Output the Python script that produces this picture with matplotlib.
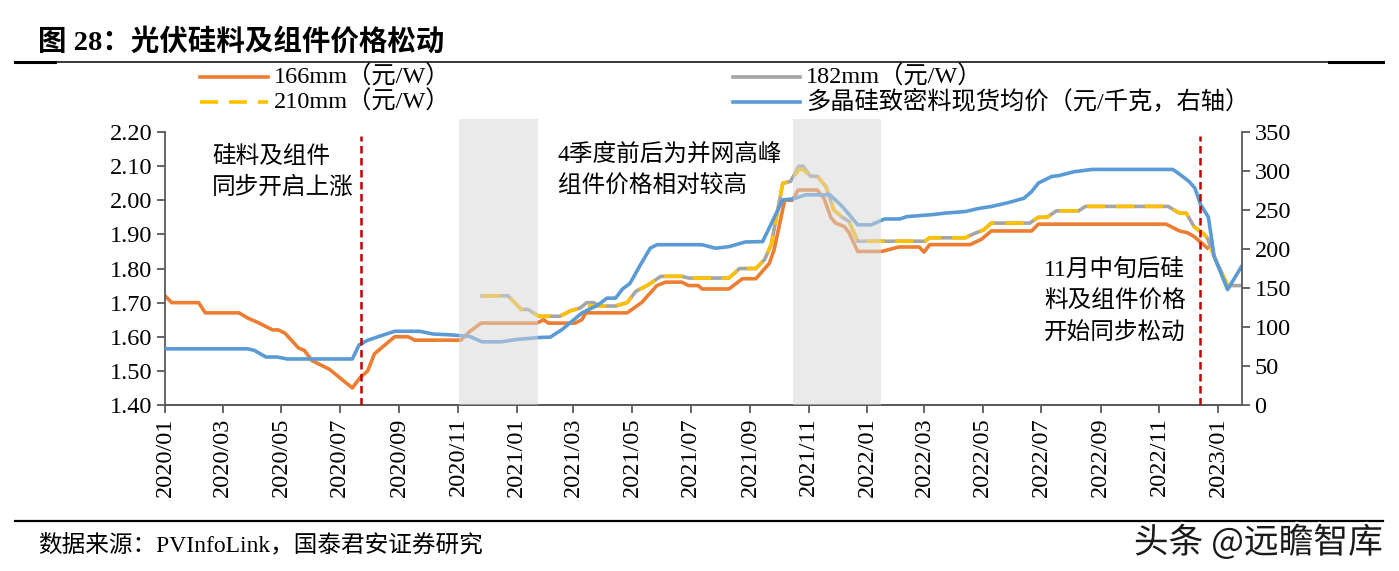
import matplotlib
matplotlib.use("Agg")
import matplotlib.pyplot as plt
import matplotlib.patheffects as pe
from matplotlib.lines import Line2D
import numpy as np
import pandas as pd

plt.rcParams["font.family"] = ["Liberation Serif", "Noto Sans CJK SC"]

W, H = 1399, 571
ORANGE = "#ED7D31"
GRAY = "#A5A5A5"
YELLOW = "#FFC000"
BLUE = "#5B9BD5"
RED = "#C00000"
SPINE = "#595959"

# ---- data -----------------------------------------------------------------
p166_dates = ["2020-01-01", "2020-01-08", "2020-02-05", "2020-02-12", "2020-03-18",
              "2020-03-27", "2020-04-08", "2020-04-22", "2020-04-28", "2020-05-05",
              "2020-05-19", "2020-05-25", "2020-06-02", "2020-06-20", "2020-07-14",
              "2020-07-22", "2020-07-30", "2020-08-06", "2020-08-27", "2020-09-10",
              "2020-09-17", "2020-11-04", "2020-11-13", "2020-11-25", "2021-01-22",
              "2021-01-29", "2021-02-03", "2021-03-03", "2021-03-10", "2021-03-14",
              "2021-04-26", "2021-05-11", "2021-05-27", "2021-06-05", "2021-06-22",
              "2021-06-29", "2021-07-09", "2021-07-13", "2021-08-10", "2021-08-24",
              "2021-09-07", "2021-09-21", "2021-09-26", "2021-10-07", "2021-10-15",
              "2021-10-21", "2021-11-10", "2021-11-17", "2021-11-24", "2021-11-29",
              "2021-12-08", "2021-12-13", "2021-12-22", "2022-01-16", "2022-02-03",
              "2022-02-24", "2022-03-01", "2022-03-07", "2022-04-18", "2022-04-30",
              "2022-05-10", "2022-06-21", "2022-06-28", "2022-11-08", "2022-11-22",
              "2022-11-30", "2022-12-07", "2022-12-21"]
p166_vals = [1.72, 1.70, 1.70, 1.67, 1.67,
             1.655, 1.64, 1.62, 1.62, 1.61,
             1.567, 1.56, 1.53, 1.505, 1.45,
             1.48, 1.50, 1.55, 1.60, 1.60,
             1.59, 1.59, 1.615, 1.64, 1.64,
             1.65, 1.64, 1.64, 1.65, 1.67,
             1.67, 1.70, 1.75, 1.76, 1.76,
             1.75, 1.75, 1.74, 1.74, 1.77,
             1.77, 1.815, 1.855, 2.00, 2.00,
             2.03, 2.03, 2.005, 1.95, 1.933,
             1.923, 1.905, 1.85, 1.85, 1.863,
             1.863, 1.848, 1.87, 1.87, 1.886,
             1.91, 1.91, 1.93, 1.93, 1.91,
             1.905, 1.894, 1.86]

p182_dates = ["2020-11-26", "2020-12-23", "2021-01-06", "2021-01-13", "2021-01-24",
              "2021-02-15", "2021-02-26", "2021-03-08", "2021-03-15", "2021-03-22",
              "2021-03-29", "2021-04-14", "2021-04-26", "2021-05-05", "2021-05-18",
              "2021-05-31", "2021-06-22", "2021-06-29", "2021-08-10", "2021-08-21",
              "2021-09-07", "2021-09-16", "2021-09-23", "2021-10-05", "2021-10-13",
              "2021-10-22", "2021-10-26", "2021-11-03", "2021-11-10", "2021-11-19",
              "2021-11-27", "2021-12-06", "2021-12-13", "2021-12-22", "2022-03-02",
              "2022-03-07", "2022-04-13", "2022-04-22", "2022-05-02", "2022-05-10",
              "2022-06-19", "2022-06-28", "2022-07-07", "2022-07-17", "2022-08-09",
              "2022-08-16", "2022-11-10", "2022-11-22", "2022-11-29", "2022-12-07",
              "2022-12-17", "2022-12-21", "2022-12-28", "2023-01-11", "2023-01-26"]
p182_vals = [1.72, 1.72, 1.68, 1.68, 1.66,
             1.66, 1.676, 1.684, 1.70, 1.70,
             1.69, 1.69, 1.70, 1.733, 1.752,
             1.777, 1.777, 1.772, 1.772, 1.80,
             1.80, 1.826, 1.87, 2.05, 2.055,
             2.10, 2.10, 2.07, 2.07, 2.04,
             1.972, 1.95, 1.938, 1.88, 1.88,
             1.89, 1.89, 1.902, 1.913, 1.933,
             1.933, 1.95, 1.95, 1.969, 1.969,
             1.982, 1.982, 1.962, 1.962, 1.923,
             1.902, 1.889, 1.835, 1.75, 1.75]

p210_dates = ["2020-11-26", "2020-12-23", "2021-01-06", "2021-01-13", "2021-01-24",
              "2021-02-15", "2021-02-26", "2021-03-08", "2021-03-15", "2021-03-22",
              "2021-03-29", "2021-04-14", "2021-04-26", "2021-05-05", "2021-05-18",
              "2021-05-31", "2021-06-22", "2021-06-29", "2021-08-10", "2021-08-21",
              "2021-09-07", "2021-09-16", "2021-09-23", "2021-10-05", "2021-10-13",
              "2021-10-22", "2021-10-26", "2021-11-03", "2021-11-10", "2021-11-19",
              "2021-11-27", "2021-12-06", "2021-12-13", "2021-12-22", "2022-03-02",
              "2022-03-07", "2022-04-13", "2022-04-22", "2022-05-02", "2022-05-10",
              "2022-06-19", "2022-06-28", "2022-07-07", "2022-07-17", "2022-08-09",
              "2022-08-16", "2022-11-10", "2022-11-22", "2022-11-29", "2022-12-07",
              "2022-12-17", "2022-12-21", "2022-12-28", "2023-01-11"]
p210_vals = [1.72, 1.72, 1.68, 1.68, 1.66,
             1.66, 1.676, 1.684, 1.69, 1.69,
             1.69, 1.69, 1.70, 1.733, 1.752,
             1.777, 1.777, 1.772, 1.772, 1.80,
             1.80, 1.826, 1.87, 2.05, 2.055,
             2.09, 2.09, 2.07, 2.07, 2.04,
             1.972, 1.95, 1.938, 1.88, 1.88,
             1.89, 1.89, 1.902, 1.913, 1.933,
             1.933, 1.95, 1.95, 1.969, 1.969,
             1.982, 1.982, 1.962, 1.962, 1.923,
             1.902, 1.889, 1.835, 1.75]

poly_dates = ["2020-01-01", "2020-03-27", "2020-04-03", "2020-04-15", "2020-04-27",
              "2020-05-07", "2020-07-14", "2020-07-21", "2020-07-30", "2020-08-11",
              "2020-08-27", "2020-09-22", "2020-10-06", "2020-10-23", "2020-11-13",
              "2020-11-26", "2020-12-16", "2021-01-01", "2021-01-24", "2021-02-05",
              "2021-02-17", "2021-03-10", "2021-03-27", "2021-04-05", "2021-04-14",
              "2021-04-21", "2021-04-29", "2021-05-10", "2021-05-20", "2021-05-27",
              "2021-07-13", "2021-07-27", "2021-08-10", "2021-08-27", "2021-09-14",
              "2021-10-05", "2021-10-15", "2021-10-29", "2021-11-23", "2021-12-06",
              "2021-12-22", "2022-01-05", "2022-01-19", "2022-02-04", "2022-02-11",
              "2022-03-09", "2022-03-23", "2022-04-13", "2022-04-27", "2022-05-10",
              "2022-05-28", "2022-06-13", "2022-06-21", "2022-06-28", "2022-07-12",
              "2022-07-19", "2022-08-04", "2022-08-23", "2022-11-15", "2022-11-22",
              "2022-12-02", "2022-12-08", "2022-12-14", "2022-12-22", "2022-12-28",
              "2023-01-11", "2023-01-26"]
poly_vals = [72, 72, 70, 61.5, 61.5,
             59, 59, 77, 83, 88,
             94.5, 94.5, 91, 90, 88,
             81, 81, 84, 86.5, 87,
             96.5, 118, 128.5, 137, 137,
             148.5, 156, 180, 201, 205.5,
             205.5, 201, 203, 209, 209.5,
             263, 264, 269.5, 269.5, 254.5,
             231, 231, 238.5, 238.5, 241.5,
             244, 246, 248, 252, 254.5,
             259.5, 265, 273.5, 284.5, 293,
             294, 299, 302, 302, 296,
             286.5, 278, 256.5, 241, 190.5,
             148, 178.5]

labels = ["166mm（元/W）", "182mm（元/W）", "210mm（元/W）",
          "多晶硅致密料现货均价（元/千克，右轴）"]
shaded = [("2020-11-02", "2021-01-23"), ("2021-10-16", "2022-01-15")]
markers = ["2020-07-23", "2022-12-13"]
notes = [("2020-02-19", [2.127, 2.036], ["硅料及组件", "同步开启上涨"]),
         ("2021-02-13", [2.135, 2.042], ["4季度前后为并网高峰", "组件价格相对较高"]),
         ("2022-07-04", [1.796, 1.703, 1.612],
          ["11月中旬后硅", "料及组件价格", "开始同步松动"])]

STYLES = {
    labels[0]: dict(color=ORANGE, lw=2.6),
    labels[1]: dict(color=GRAY, lw=2.6),
    labels[2]: dict(color=YELLOW, lw=2.6, dashes=(5, 3)),
    labels[3]: dict(color=BLUE, lw=2.6),
}

# ---- figure ---------------------------------------------------------------
fig = plt.figure(figsize=(W / 100, H / 100), dpi=100, facecolor="white")
ax = fig.add_axes([165 / W, 1 - 405 / H, (1242 - 165) / W, (405 - 132) / H])
ax2 = ax.twinx()

ax.plot(pd.to_datetime(p166_dates), p166_vals, **STYLES[labels[0]])
ax.plot(pd.to_datetime(p182_dates), p182_vals, **STYLES[labels[1]])
ax.plot(pd.to_datetime(p210_dates), p210_vals, **STYLES[labels[2]])
ax2.plot(pd.to_datetime(poly_dates), poly_vals, **STYLES[labels[3]])

ax.set_xlim(pd.Timestamp("2020-01-01"), pd.Timestamp("2023-01-26"))
ax.set_ylim(1.40, 2.20)
ax2.set_ylim(0, 350)
ax.set_yticks(np.arange(1.40, 2.201, 0.10))
ax.set_yticklabels([f"{v:.2f}" for v in np.arange(1.40, 2.201, 0.10)])
ax2.set_yticks(np.arange(0, 351, 50))
xt = pd.date_range("2020-01-01", "2023-01-01", freq="2MS")
ax.set_xticks(xt)
ax.set_xticklabels([d.strftime("%Y/%m") for d in xt], rotation=90)

for a in (ax, ax2):
    a.spines["top"].set_visible(False)
    for s in a.spines.values():
        s.set_color(SPINE)
        s.set_linewidth(1.3)
    a.tick_params(length=6, width=1.3, color=SPINE, labelsize=17.5, pad=3)
ax.spines["right"].set_visible(False)
ax2.spines["left"].set_visible(False)

# grey shading drawn on top so lines underneath look faded
for s, e in shaded:
    ax2.axvspan(pd.Timestamp(s), pd.Timestamp(e), ymin=0, ymax=1.048,
                facecolor="#d6d6d6", alpha=0.5, lw=0, zorder=5, clip_on=False)
for d in markers:
    ax2.axvline(pd.Timestamp(d), ymin=0, ymax=0.985, color=RED, lw=1.8,
                dashes=(3, 1.8), zorder=6)

for d, ys, lines in notes:
    for y, t in zip(ys, lines):
        ax.text(pd.Timestamp(d), y, t, fontsize=17, ha="left", va="center")

# ---- legend (drawn by hand in figure coords) -------------------------------
leg = [(200, 268, 77, labels[0]), (200, 268, 102, labels[2]),
       (733, 800, 77, labels[1]), (733, 800, 102, labels[3])]
for x0, x1, y, lab in leg:
    fig.add_artist(Line2D([x0 / W, x1 / W], [1 - y / H] * 2,
                          transform=fig.transFigure, **STYLES[lab]))
    fig.text((x1 + 6) / W, 1 - y / H, lab, fontsize=17.5, va="center")

# ---- title, rules, source --------------------------------------------------
fig.text(38 / W, 1 - 42 / H, "图 28：光伏硅料及组件价格松动",
         fontsize=20.5, fontweight="bold", va="center")
top = 1 - 62 / H
fig.add_artist(Line2D([15 / W, 1383 / W], [top, top], color="black", lw=1.1,
                      transform=fig.transFigure))
fig.add_artist(Line2D([15 / W, 55 / W], [top, top], color="black", lw=2.2,
                      transform=fig.transFigure))
fig.add_artist(Line2D([1329 / W, 1383 / W], [top, top], color="black", lw=2.2,
                      transform=fig.transFigure))
bot = 1 - 521 / H
fig.add_artist(Line2D([15 / W, 1383 / W], [bot, bot], color="black", lw=1.6,
                      transform=fig.transFigure))
fig.text(38 / W, 1 - 545 / H, "数据来源：PVInfoLink，国泰君安证券研究",
         fontsize=17, va="center")
fig.text(1383 / W, 1 - 543 / H, "头条 @远瞻智库", fontsize=25, ha="right",
         va="center", color="#1a1a1a", family=["Noto Sans CJK SC", "DejaVu Sans"],
         path_effects=[pe.withStroke(linewidth=3, foreground="white")])

fig.savefig("out.png", dpi=100, facecolor="white")
